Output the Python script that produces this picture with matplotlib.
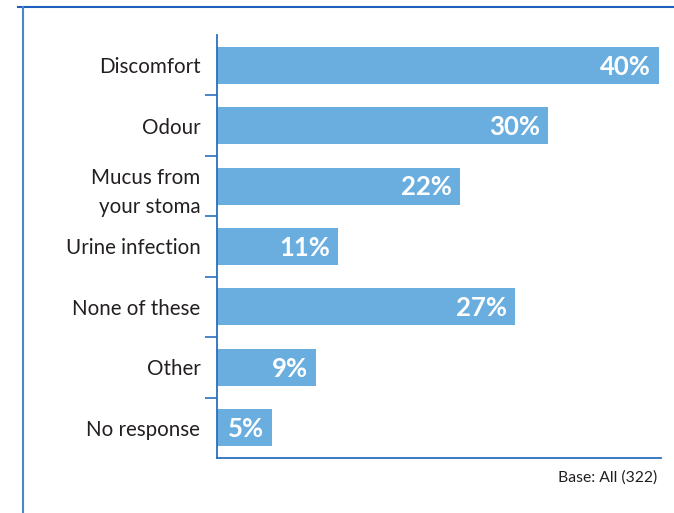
import matplotlib
matplotlib.use("Agg")
import matplotlib.pyplot as plt
from matplotlib.lines import Line2D

categories = ["Discomfort", "Odour", "Mucus from\nyour stoma", "Urine infection",
              "None of these", "Other", "No response"]
values = [40, 30, 22, 11, 27, 9, 5]
value_labels = ["40%", "30%", "22%", "11%", "27%", "9%", "5%"]
base_note = "Base: All (322)"

bar_color = "#6aaee0"
axis_color = "#2a6fbd"
text_color = "#231f20"

plt.rcParams["font.family"] = ["Lato", "DejaVu Sans"]

fig = plt.figure(figsize=(6.74, 5.13), dpi=100)
ax = fig.add_axes([217 / 674, 1 - 458 / 513, (661 - 217) / 674, (458 - 35) / 513])

ypos = list(range(len(categories)))
ax.barh(ypos, values, height=0.61, color=bar_color, zorder=2)
ax.set_ylim(len(categories) - 0.5, -0.5)
ax.set_xlim(0, 40.2)

for y, v, lab in zip(ypos, values, value_labels):
    ax.annotate(lab, (v, y), xytext=(-6, -1), textcoords="offset points",
                ha="right", va="center", color="white", fontsize=18.5,
                fontweight="bold")

# category labels
ax.set_yticks(ypos)
ax.set_yticklabels(categories, fontsize=14.8, color=text_color, linespacing=1.55)
ax.tick_params(axis="y", which="major", length=0, pad=12)
ax.set_yticks([i + 0.5 for i in range(len(categories) - 1)], minor=True)
ax.tick_params(axis="y", which="minor", length=9, width=1.2, color=axis_color)
ax.set_xticks([])

for s in ["top", "right"]:
    ax.spines[s].set_visible(False)
for s in ["left", "bottom"]:
    ax.spines[s].set_color(axis_color)
    ax.spines[s].set_linewidth(1.3)

fig.text(657 / 674, 1 - 478 / 513, base_note, ha="right", va="center",
         fontsize=11.3, color=text_color)

# frame lines around the panel
fig.add_artist(Line2D([18 / 674, 1], [1 - 6.5 / 513, 1 - 6.5 / 513],
                      transform=fig.transFigure, color="#1f5fbf", lw=1.5))
fig.add_artist(Line2D([23 / 674, 23 / 674], [0, 1 - 6.5 / 513],
                      transform=fig.transFigure, color="#4a86c8", lw=1.5))

fig.savefig("out.png", dpi=100)
